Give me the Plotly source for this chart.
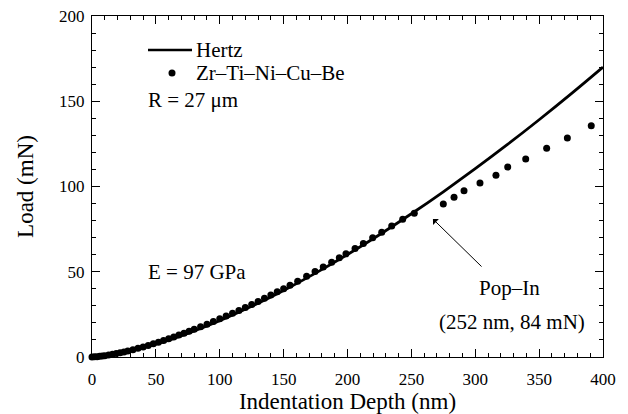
import plotly.graph_objects as go

# Hertz fit curve (depth nm, load mN)
hertz_depth = [0, 12.5, 25, 37.5, 50, 62.5, 75, 100, 125, 150, 175, 200, 225, 250, 275, 300, 325, 350, 375, 400]
hertz_load = [0, 0.94, 2.66, 4.88, 7.51, 10.5, 13.8, 21.25, 29.7, 39.04, 49.19, 60.1, 71.72, 84.0, 96.91, 110.42, 124.5, 139.14, 154.3, 170.0]

# Zr-Ti-Ni-Cu-Be measured points
exp_depth = [0, 2, 4, 6, 8, 10, 13, 16, 19, 22, 25, 28, 32, 36, 40, 44, 48, 52, 56, 60,
             64, 68, 72, 76, 80, 85, 90, 95, 100, 105, 110, 115, 120, 125, 130, 135, 140,
             145, 150, 155, 161, 168, 174.6, 181, 187.6, 193.6, 198.8, 205.9, 212.4, 219.7,
             226.8, 234.6, 243.2, 252.3,
             275.0, 283.4, 291.2, 303.7, 316.2, 325.4, 339.5, 355.9, 372.1, 390.8]
exp_load = [0, 0.1, 0.2, 0.4, 0.6, 0.8, 1.2, 1.6, 2.0, 2.5, 3.0, 3.5, 4.3, 5.1, 5.9, 6.8, 7.7, 8.7, 9.7, 10.7,
            11.8, 12.9, 14.0, 15.1, 16.3, 17.7, 19.2, 20.8, 22.4, 24.0, 25.6, 27.3, 29.0, 30.8, 32.6, 34.4, 36.3,
            38.2, 40.1, 42.1, 44.5, 47.3, 50.1, 52.8, 55.6, 58.2, 60.5, 63.7, 66.6, 69.9,
            73.2, 76.8, 80.8, 84.3,
            89.7, 93.7, 97.5, 102.1, 106.6, 111.4, 116.1, 122.4, 128.4, 135.7]

x_ticks = [0, 50, 100, 150, 200, 250, 300, 350, 400]
y_ticks = [0, 50, 100, 150, 200]

series_names = ["Hertz", "Zr\u2013Ti\u2013Ni\u2013Cu\u2013Be"]

FONT = "Liberation Serif, Times New Roman, serif"
TXT = dict(family=FONT, size=21, color="black")

OFF = 8  # page body offset in the browser
# target plot box in window pixels: left 92, right 603, top 16, bottom 357
W, H = 620, 406
L, T = 92 - OFF, 16 - OFF
R = W - (603 - OFF)
B = H - (357 - OFF)
PW, PH = W - L - R, H - T - B


def px(xw):
    return (xw - 92) / PW


def py(yw):
    return (357 - yw) / PH


fig = go.Figure()
fig.add_trace(go.Scatter(x=hertz_depth, y=hertz_load, mode="lines", name=series_names[0],
                         line=dict(color="black", width=2.8, shape="spline"), showlegend=False))
fig.add_trace(go.Scatter(x=exp_depth, y=exp_load, mode="markers", name=series_names[1],
                         marker=dict(color="black", size=7), cliponaxis=False, showlegend=False))

# legend keys (drawn as a compact legend box)
fig.add_shape(type="line", xref="paper", yref="paper", x0=px(148), x1=px(192), y0=py(50), y1=py(50),
              line=dict(color="black", width=2.5))
fig.add_shape(type="circle", xref="paper", yref="paper", x0=px(168.5), x1=px(175.5), y0=py(76.5), y1=py(69.5),
              fillcolor="black", line=dict(color="black", width=0))
fig.add_annotation(x=px(194), y=py(50), xref="paper", yref="paper", xanchor="left", yanchor="middle",
                   text=series_names[0], showarrow=False, font=TXT)
fig.add_annotation(x=px(194), y=py(73), xref="paper", yref="paper", xanchor="left", yanchor="middle",
                   text=series_names[1], showarrow=False, font=TXT)

fig.add_annotation(x=266.9, y=80.9, ax=306.1, ay=52.2, xref="x", yref="y", axref="x", ayref="y",
                   text="", showarrow=True, arrowhead=1, arrowsize=1.4, arrowwidth=1, arrowcolor="black")
fig.add_annotation(x=327, y=40.5, xref="x", yref="y", text="Pop\u2013In", showarrow=False, font=TXT)
fig.add_annotation(x=329, y=20.5, xref="x", yref="y", text="(252 nm, 84 mN)", showarrow=False, font=TXT)
fig.add_annotation(x=px(146), y=py(100), xref="paper", yref="paper", xanchor="left", yanchor="middle",
                   text="R = 27 \u03bcm", showarrow=False, font=TXT)
fig.add_annotation(x=px(146), y=py(272), xref="paper", yref="paper", xanchor="left", yanchor="middle",
                   text="E = 97 GPa", showarrow=False, font=TXT)

axis_common = dict(showgrid=False, zeroline=False, showline=True, linecolor="black", linewidth=1.3,
                   mirror="allticks", ticks="inside", ticklen=8, tickwidth=1.2, tickcolor="black",
                   tickfont=dict(family=FONT, size=17, color="black"), automargin=False,
                   ticklabeloverflow="allow",
                   minor=dict(ticks="inside", ticklen=4, tickwidth=1, tickcolor="black", dtick=10))

fig.update_xaxes(range=[0, 400], tickvals=x_ticks, ticktext=[str(v) for v in x_ticks],
                 title=dict(text="Indentation Depth (nm)", font=dict(family=FONT, size=23, color="black"), standoff=2),
                 ticklabelstandoff=6, **axis_common)
fig.update_yaxes(range=[0, 200], tickvals=y_ticks, ticktext=[str(v) for v in y_ticks],
                 title=dict(text="Load (mN)", font=dict(family=FONT, size=23, color="black"), standoff=18),
                 ticklabelstandoff=3, **axis_common)

fig.update_layout(width=W, height=H, margin=dict(l=L, r=R, t=T, b=B),
                  paper_bgcolor="white", plot_bgcolor="white",
                  font=dict(family=FONT, color="black"), showlegend=False)

fig.write_html("out.html")
